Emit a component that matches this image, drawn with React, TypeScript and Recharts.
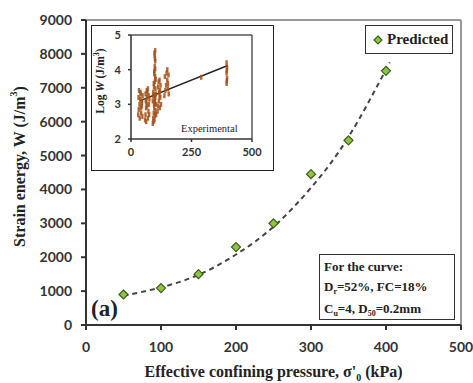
import {
  ComposedChart,
  Line,
  Scatter,
  XAxis,
  YAxis,
  ReferenceLine,
} from "recharts";

// main chart: predicted strain energy vs effective confining pressure
const pressures = [50, 100, 150, 200, 250, 300, 350, 400];
const predictedW = [900, 1090, 1500, 2300, 3000, 4450, 5450, 7500];
// dashed fitted curve
const curveX = [50, 100, 150, 200, 250, 300, 350, 405];
const curveW = [860, 1110, 1480, 2080, 2900, 4050, 5550, 7750];
const mainXTicks = [0, 100, 200, 300, 400, 500];
const mainYTicks = [0, 1000, 2000, 3000, 4000, 5000, 6000, 7000, 8000, 9000];

// inset: experimental log W scatter + linear trend
const expX = [
  30, 32, 35, 38, 40, 42, 45, 46, 48, 33, 36, 44, 31, 41, 47, 39,
  58, 60, 62, 64, 66, 68, 70, 72, 74, 76, 60, 70, 63, 67, 73, 65, 61, 75,
  90, 92, 94, 96, 98, 100, 92, 95, 98, 100, 96, 98, 100, 98, 100, 104, 104, 103, 90,
  93, 97, 99, 101, 95, 99, 97, 101, 94, 102, 96, 100, 91, 99, 97,
  110, 112, 115, 118, 120, 122, 118, 124, 112, 114, 116, 121, 119,
  138, 142, 145, 150, 155, 150, 140, 156, 152, 147, 153,
  290,
  395, 397, 395, 397, 395, 396, 396,
];
const expLogW = [
  2.7, 2.85, 3.0, 3.15, 3.3, 2.75, 2.95, 3.1, 3.25, 3.4, 2.6, 3.05, 3.2, 2.9, 2.65, 3.35,
  2.55, 2.7, 2.9, 3.05, 3.2, 3.35, 3.45, 2.8, 3.0, 3.15, 3.3, 2.6, 2.5, 2.95, 3.25, 3.4, 3.1, 2.7,
  2.45, 2.6, 2.75, 2.9, 3.05, 3.2, 3.35, 3.5, 3.65, 3.8, 3.95, 4.1, 4.25, 4.4, 4.55, 2.7, 3.0, 3.3, 3.1,
  2.5, 2.55, 2.68, 2.82, 3.0, 3.15, 3.28, 3.45, 3.6, 3.72, 3.88, 4.02, 3.25, 4.32, 4.48,
  2.8, 2.95, 3.1, 3.25, 3.4, 3.55, 3.7, 3.0, 3.5, 3.65, 3.35, 3.2, 2.9,
  3.25, 3.4, 3.55, 3.7, 3.85, 4.0, 3.8, 3.3, 3.45, 3.9, 3.6,
  3.78,
  3.6, 3.75, 3.9, 4.05, 4.2, 3.68, 3.98,
];
const trendX = [36, 400];
const trendLogW = [3.1, 4.12];
const insetXTicks = [0, 250, 500];
const insetYTicks = [2, 3, 4, 5];

const mainData = pressures.map((x, i) => ({ x, w: predictedW[i] }));
const curveData = curveX.map((x, i) => ({ x, w: curveW[i] }));
const expData = expX.map((x, i) => ({ x, y: expLogW[i] }));
const trendData = trendX.map((x, i) => ({ x, y: trendLogW[i] }));

const serif = "'Liberation Serif', 'Times New Roman', serif";
const sans = "Lato, 'Open Sans', sans-serif";

const Diamond = (props: any) => {
  const { cx, cy } = props;
  if (cx == null || cy == null) return null;
  const s = 4.5;
  return (
    <polygon
      points={`${cx},${cy - s} ${cx + s},${cy} ${cx},${cy + s} ${cx - s},${cy}`}
      fill="#8cc63f"
      stroke="#3d5a1e"
      strokeWidth={1.2}
    />
  );
};

const Streak = (props: any) => {
  const { cx, cy } = props;
  if (cx == null || cy == null) return null;
  return <rect x={cx - 1.2} y={cy - 2.5} width={2.4} height={5} fill="#a24f17" opacity={0.85} />;
};

const YTitle = (props: any) => {
  const vb = props.viewBox;
  const x = vb.x + 5;
  const y = vb.y + vb.height / 2 - 6;
  return (
    <text
      x={x}
      y={y}
      transform={`rotate(-90 ${x} ${y})`}
      textAnchor="middle"
      dominantBaseline="middle"
      fontFamily={serif}
      fontWeight="bold"
      fontSize={16}
      fill="#222"
    >
      Strain energy, W (J/m<tspan dy={-6} fontSize={10}>3</tspan>
      <tspan dy={6}>)</tspan>
    </text>
  );
};

const XTitle = (props: any) => {
  const vb = props.viewBox;
  return (
    <text
      x={vb.x + vb.width / 2}
      y={vb.y + 52}
      textAnchor="middle"
      fontFamily={serif}
      fontWeight="bold"
      fontSize={16}
      fill="#222"
    >
      Effective confining pressure, σ'<tspan dy={4} fontSize={10}>0</tspan>
      <tspan dy={-4}> (kPa)</tspan>
    </text>
  );
};

const InsetYTitle = (props: any) => {
  const vb = props.viewBox;
  const x = vb.x - 5;
  const y = vb.y + vb.height / 2 - 6;
  return (
    <text
      x={x}
      y={y}
      transform={`rotate(-90 ${x} ${y})`}
      textAnchor="middle"
      dominantBaseline="middle"
      fontFamily={serif}
      fontWeight="bold"
      fontSize={11.5}
      fill="#222"
    >
      Log <tspan fontStyle="italic">W</tspan> (J/m<tspan dy={-4} fontSize={8}>3</tspan>
      <tspan dy={4}>)</tspan>
    </text>
  );
};

const subStyle = {
  fontSize: 8,
  verticalAlign: "baseline",
  position: "relative" as const,
  top: 3,
};

export default function App() {
  return (
    <div
      style={{
        position: "absolute",
        left: 0,
        top: 0,
        width: 473,
        height: 383,
        background: "#fff",
      }}
    >
      <ComposedChart
        width={473}
        height={383}
        margin={{ top: 20, right: 12, bottom: 28, left: 16 }}
      >
        <XAxis
          dataKey="x"
          type="number"
          domain={[0, 500]}
          ticks={mainXTicks}
          stroke="#333"
          strokeWidth={2}
          tickSize={5}
          tickMargin={12}
          height={30}
          tick={{ fill: "#333", fontSize: 14, fontWeight: 700, fontFamily: sans }}
          label={<XTitle />}
        />
        <YAxis
          type="number"
          domain={[0, 9000]}
          ticks={mainYTicks}
          width={70}
          stroke="#333"
          strokeWidth={2}
          tickSize={5}
          tickMargin={9}
          tick={{ fill: "#333", fontSize: 14, fontWeight: 700, fontFamily: sans }}
          label={<YTitle />}
        />
        <ReferenceLine y={9000} stroke="#999" strokeWidth={2} />
        <ReferenceLine x={500} stroke="#999" strokeWidth={2} />
        <Line
          data={curveData}
          dataKey="w"
          type="natural"
          stroke="#444"
          strokeWidth={2}
          strokeDasharray="5 4"
          dot={false}
          activeDot={false}
          isAnimationActive={false}
        />
        <Scatter data={mainData} dataKey="w" shape={<Diamond />} isAnimationActive={false} />
      </ComposedChart>

      {/* legend */}
      <div
        style={{
          position: "absolute",
          left: 365,
          top: 25,
          width: 88,
          height: 29,
          border: "1.5px solid #333",
          display: "flex",
          alignItems: "center",
          fontFamily: serif,
          fontWeight: "bold",
          fontSize: 15,
          color: "#222",
          boxSizing: "border-box",
        }}
      >
        <svg width={21} height={14}>
          <polygon points="12,3 16,7 12,11 8,7" fill="#8cc63f" stroke="#3d5a1e" strokeWidth={1.2} />
        </svg>
        Predicted
      </div>

      {/* annotation */}
      <div
        style={{
          position: "absolute",
          left: 319,
          top: 254,
          width: 136,
          height: 66,
          border: "1.5px solid #333",
          boxSizing: "border-box",
          padding: "2px 0 0 4px",
          fontFamily: serif,
          fontWeight: "bold",
          fontSize: 13,
          lineHeight: "20px",
          color: "#222",
          background: "#fff",
        }}
      >
        <div>For the curve:</div>
        <div>
          D<span style={subStyle}>r</span>=52%, FC=18%
        </div>
        <div>
          C<span style={subStyle}>u</span>=4, D<span style={subStyle}>50</span>=0.2mm
        </div>
      </div>

      {/* panel label */}
      <div
        style={{
          position: "absolute",
          left: 91,
          top: 296,
          fontFamily: serif,
          fontWeight: "bold",
          fontSize: 23,
          color: "#222",
        }}
      >
        (a)
      </div>

      {/* inset */}
      <div
        style={{
          position: "absolute",
          left: 91,
          top: 25,
          width: 183,
          height: 146,
          border: "1.5px solid #222",
          boxSizing: "border-box",
          background: "#fff",
        }}
      >
        <ComposedChart
          width={180}
          height={143}
          margin={{ top: 9, right: 20, bottom: 12, left: 14 }}
        >
          <XAxis
            dataKey="x"
            type="number"
            domain={[0, 500]}
            ticks={insetXTicks}
            stroke="#333"
            strokeWidth={1.5}
            tickSize={3}
            tickMargin={6}
            height={18}
            tick={{ fill: "#333", fontSize: 11, fontWeight: 700, fontFamily: sans }}
          />
          <YAxis
            type="number"
            domain={[2, 5]}
            ticks={insetYTicks}
            width={25}
            stroke="#333"
            strokeWidth={1.5}
            tickSize={3}
            tickMargin={7}
            tick={{ fill: "#333", fontSize: 11, fontWeight: 700, fontFamily: sans }}
            label={<InsetYTitle />}
          />
          <ReferenceLine y={5} stroke="#555" strokeWidth={1.5} />
          <ReferenceLine x={500} stroke="#555" strokeWidth={1.5} />
          <Scatter data={expData} dataKey="y" shape={<Streak />} isAnimationActive={false} />
          <Line
            data={trendData}
            dataKey="y"
            type="linear"
            stroke="#222"
            strokeWidth={1.5}
            dot={false}
            activeDot={false}
            isAnimationActive={false}
          />
        </ComposedChart>
        <div
          style={{
            position: "absolute",
            left: 89,
            top: 97,
            fontFamily: serif,
            fontSize: 10.5,
            color: "#223",
          }}
        >
          Experimental
        </div>
      </div>
    </div>
  );
}
